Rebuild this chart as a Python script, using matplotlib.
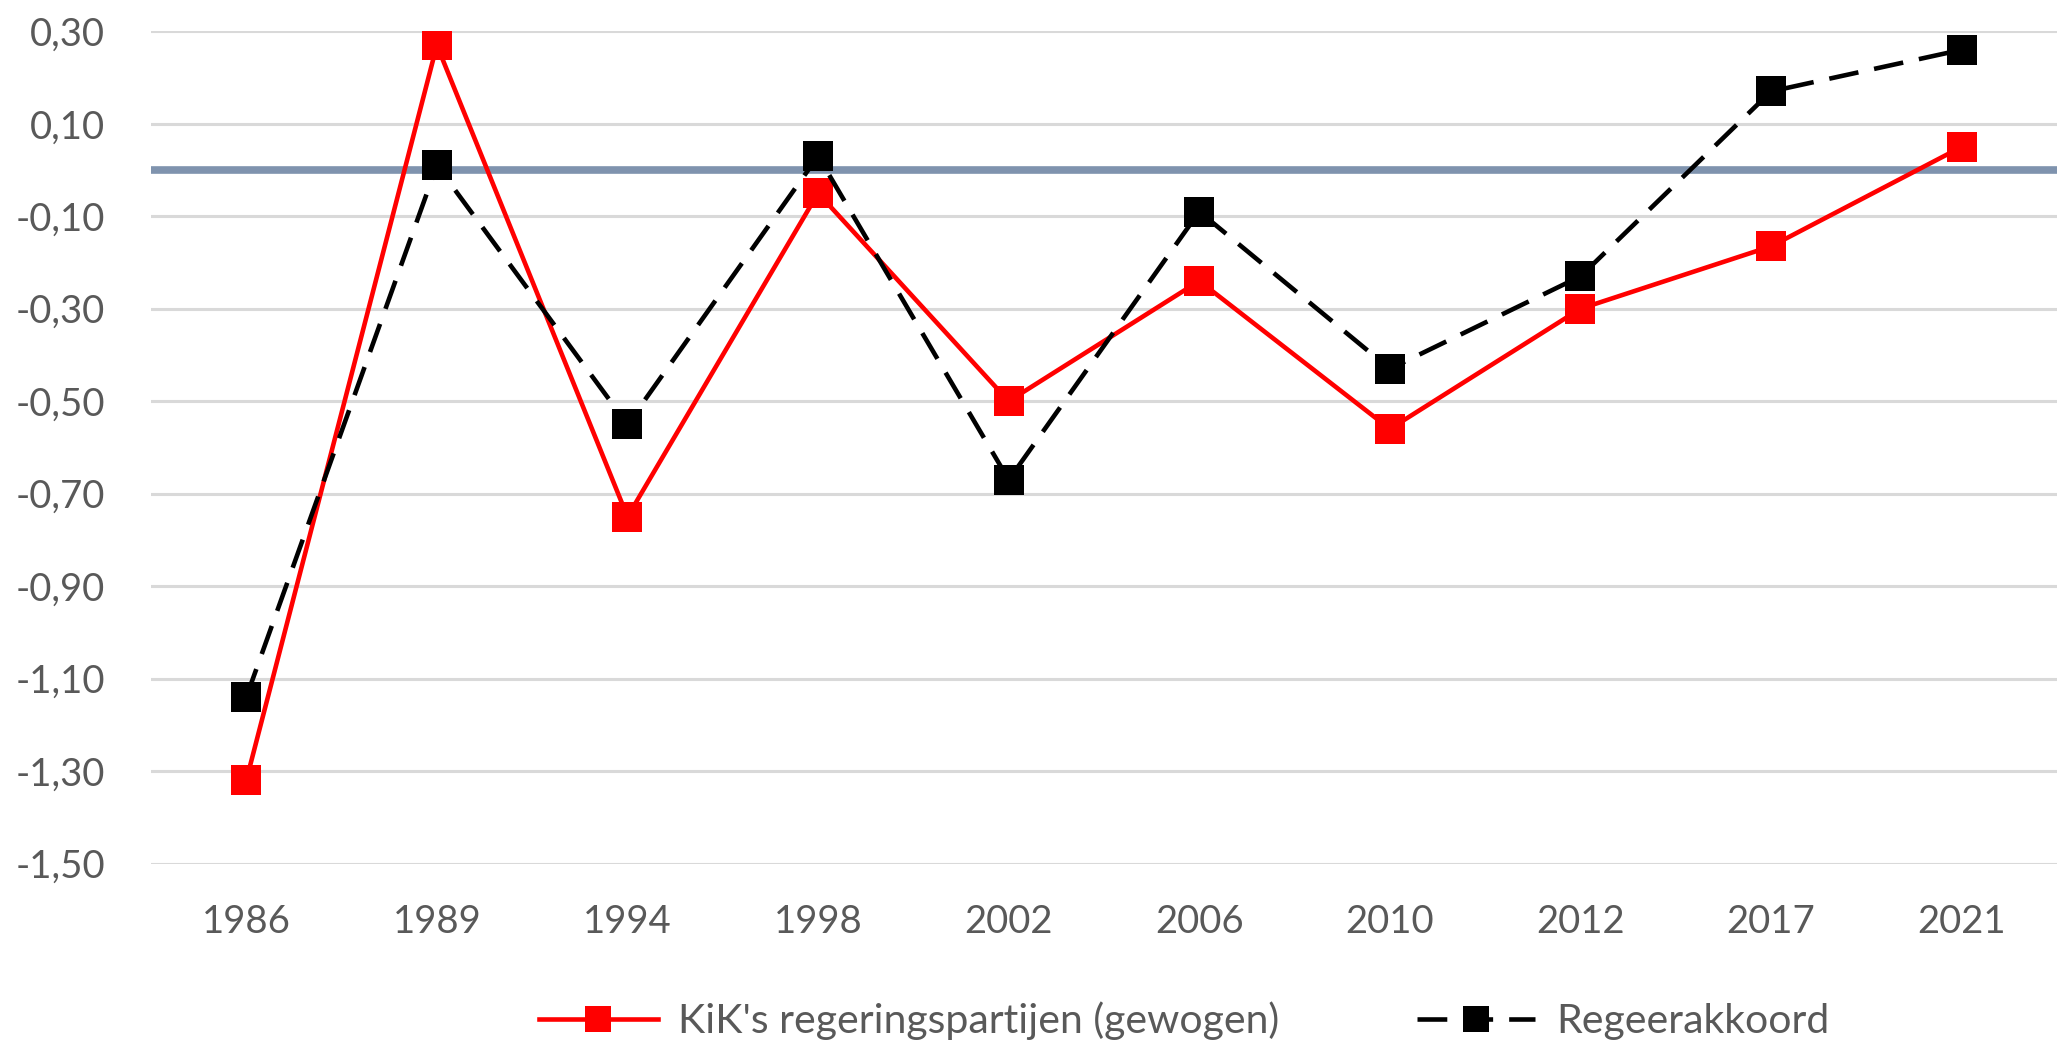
import matplotlib
matplotlib.use("Agg")
import matplotlib.pyplot as plt
import numpy as np

years = ["1986", "1989", "1994", "1998", "2002", "2006", "2010", "2012", "2017", "2021"]
kik_values = [-1.32, 0.27, -0.75, -0.05, -0.50, -0.24, -0.56, -0.30, -0.165, 0.05]
akkoord_values = [-1.14, 0.01, -0.55, 0.03, -0.67, -0.09, -0.43, -0.23, 0.17, 0.26]
y_ticks = [-1.50, -1.30, -1.10, -0.90, -0.70, -0.50, -0.30, -0.10, 0.10, 0.30]
kik_label = "KiK's regeringspartijen (gewogen)"
akkoord_label = "Regeerakkoord"

plt.rcParams['font.family'] = ['Lato', 'DejaVu Sans']
text_color = '#595959'

fig = plt.figure(figsize=(20.57, 10.43), dpi=100)
ax = fig.add_axes([0.0734, 0.172, 0.9266, 0.798])

x = np.arange(len(years))
ax.set_xlim(-0.5, len(years) - 0.5)
ax.set_ylim(y_ticks[0], y_ticks[-1])
ax.set_yticks(y_ticks)
ax.set_yticklabels([f"{v:.2f}".replace('.', ',') for v in y_ticks])
ax.set_xticks(x)
ax.set_xticklabels(years)

ax.grid(axis='y', color='#D9D9D9', linewidth=2.2, zorder=0)
ax.set_axisbelow(True)
ax.axhline(0, color='#7F93AE', linewidth=5.5, zorder=1)

ax.plot(x, kik_values, color='#FF0000', linewidth=3.3, marker='s', markersize=22,
        markerfacecolor='#FF0000', markeredgewidth=0, label=kik_label, zorder=3)
ax.plot(x, akkoord_values, color='#000000', linewidth=3.3, linestyle=(0, (6.5, 3.5)),
        marker='s', markersize=22, markerfacecolor='#000000', markeredgewidth=0,
        label=akkoord_label, zorder=4)

for s in ax.spines.values():
    s.set_visible(False)
ax.tick_params(axis='both', length=0, labelsize=27.5, colors=text_color)
ax.tick_params(axis='y', pad=33)
ax.tick_params(axis='x', pad=29)

leg = fig.legend(loc='center', bbox_to_anchor=(0.5756, 0.021), ncol=2, frameon=False,
                 fontsize=29.5, handlelength=2.9, handletextpad=0.5, columnspacing=3.35,
                 markerscale=0.85)
for t in leg.get_texts():
    t.set_color(text_color)

fig.savefig("out.png", dpi=100)
